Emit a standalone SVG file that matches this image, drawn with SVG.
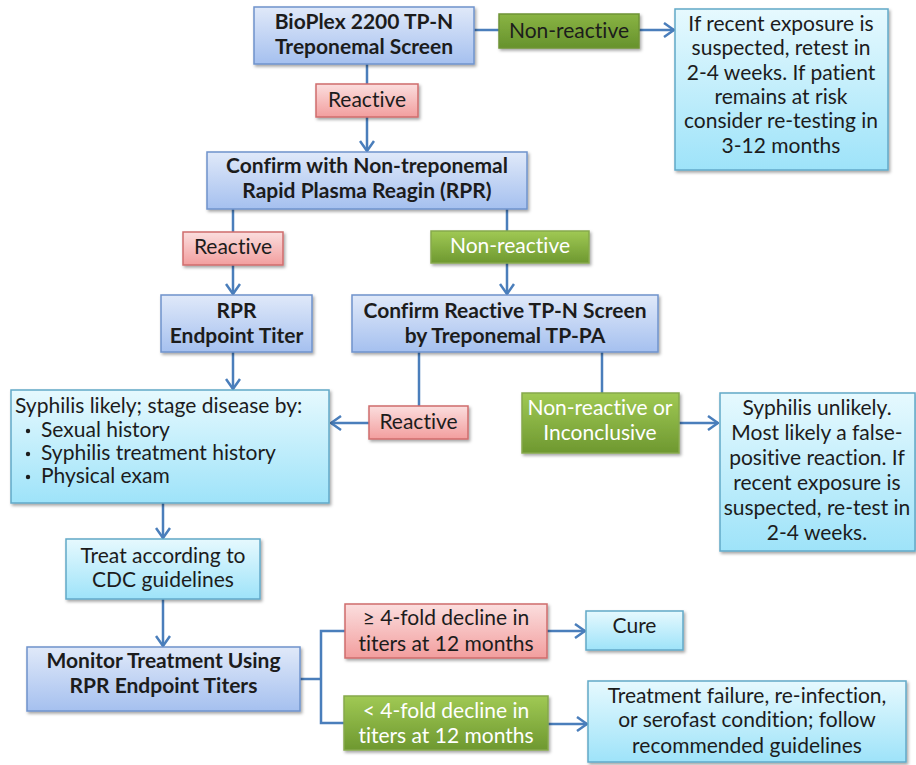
<svg xmlns="http://www.w3.org/2000/svg" width="916" height="765" viewBox="0 0 916 765">
<defs>
<linearGradient id="gBlue" x1="0" y1="0" x2="0" y2="1"><stop offset="0" stop-color="#e0e9f9"/><stop offset="1" stop-color="#a5c0ef"/></linearGradient>
<linearGradient id="gCyan" x1="0" y1="0" x2="0" y2="1"><stop offset="0" stop-color="#e6f9fe"/><stop offset="1" stop-color="#9ee3f9"/></linearGradient>
<linearGradient id="gRed" x1="0" y1="0" x2="0" y2="1"><stop offset="0" stop-color="#fbdede"/><stop offset="1" stop-color="#f29e9e"/></linearGradient>
<linearGradient id="gGreen" x1="0" y1="0" x2="0" y2="1"><stop offset="0" stop-color="#a0c954"/><stop offset="1" stop-color="#6e9830"/></linearGradient>
<linearGradient id="gGreenD" x1="0" y1="0" x2="0" y2="1"><stop offset="0" stop-color="#8ab444"/><stop offset="1" stop-color="#66922c"/></linearGradient>
<filter id="sh" x="-10%" y="-10%" width="130%" height="140%"><feDropShadow dx="1.5" dy="2" stdDeviation="1.5" flood-color="#000" flood-opacity="0.35"/></filter>
<marker id="arr" viewBox="0 0 12 16" refX="11" refY="8" markerWidth="12" markerHeight="16" markerUnits="userSpaceOnUse" orient="auto"><path d="M1,1 L11,8 L1,15" fill="none" stroke="#4a7ebb" stroke-width="2.5"/></marker>
</defs>
<style>
.blue{fill:url(#gBlue);stroke:#6f93cc;stroke-width:1.5;filter:url(#sh)}
.cyan{fill:url(#gCyan);stroke:#62a9c8;stroke-width:1.5;filter:url(#sh)}
.red{fill:url(#gRed);stroke:#cf6c6c;stroke-width:1.5;filter:url(#sh)}
.green{fill:url(#gGreen);stroke:#86a94c;stroke-width:1.5;filter:url(#sh)}
.greend{fill:url(#gGreenD);stroke:#6f9436;stroke-width:1.5;filter:url(#sh)}
text{font-family:Lato,"Liberation Sans",sans-serif;font-size:21px;fill:#1c1c1c;text-anchor:middle;font-variant-ligatures:none}
.b{font-weight:bold;font-size:21px}
.w{fill:#ffffff}
.l{text-anchor:start}
.c line,.c polyline{stroke:#4a7ebb;stroke-width:2.5;fill:none}
</style>
<g class="c" id="connectors">
<line x1="474" y1="30" x2="499" y2="30"/>
<line x1="639" y1="30" x2="674" y2="30" marker-end="url(#arr)"/>
<line x1="367" y1="64" x2="367" y2="151" marker-end="url(#arr)"/>
<line x1="233" y1="209" x2="233" y2="294" marker-end="url(#arr)"/>
<line x1="507" y1="209" x2="507" y2="294" marker-end="url(#arr)"/>
<line x1="233" y1="352" x2="233" y2="389" marker-end="url(#arr)"/>
<line x1="419" y1="352" x2="419" y2="406"/>
<line x1="369" y1="423" x2="331" y2="423" marker-end="url(#arr)"/>
<line x1="602" y1="352" x2="602" y2="393"/>
<line x1="679" y1="423" x2="718" y2="423" marker-end="url(#arr)"/>
<line x1="163" y1="503" x2="163" y2="538" marker-end="url(#arr)"/>
<line x1="163" y1="599" x2="163" y2="646" marker-end="url(#arr)"/>
<line x1="300" y1="679" x2="321" y2="679"/>
<polyline points="345,631 321,631 321,723 344,723"/>
<line x1="547" y1="631" x2="585" y2="631" marker-end="url(#arr)"/>
<line x1="548" y1="724" x2="587" y2="724" marker-end="url(#arr)"/>
</g>
<g id="bioplex"><rect class="blue" x="254" y="7" width="220" height="57"/><text class="b" x="364" y="29">BioPlex 2200 TP-N</text><text class="b" x="364" y="54">Treponemal Screen</text></g>
<g id="nonreactive1"><rect class="greend" x="499" y="14" width="140" height="34"/><text x="569" y="38">Non-reactive</text></g>
<g id="retest"><rect class="cyan" x="675" y="9" width="213" height="161"/>
<text x="781" y="31">If recent exposure is</text><text x="781" y="55">suspected, retest in</text><text x="781" y="80">2-4 weeks. If patient</text><text x="781" y="104">remains at risk</text><text x="781" y="128">consider re-testing in</text><text x="781" y="153">3-12 months</text></g>
<g id="reactive1"><rect class="red" x="316" y="84" width="102" height="33"/><text x="367" y="107">Reactive</text></g>
<g id="rpr"><rect class="blue" x="207" y="152" width="320" height="57"/><text class="b" x="367" y="173">Confirm with Non-treponemal</text><text class="b" x="367" y="198">Rapid Plasma Reagin (RPR)</text></g>
<g id="reactive2"><rect class="red" x="183" y="232" width="100" height="33"/><text x="233" y="254">Reactive</text></g>
<g id="nonreactive2"><rect class="green" x="431" y="231" width="158" height="32"/><text class="w" x="510" y="253">Non-reactive</text></g>
<g id="titer"><rect class="blue" x="161" y="295" width="151" height="57"/><text class="b" x="236.5" y="318">RPR</text><text class="b" x="236.5" y="343">Endpoint Titer</text></g>
<g id="tppa"><rect class="blue" x="352" y="295" width="306" height="57"/><text class="b" x="505" y="318">Confirm Reactive TP-N Screen</text><text class="b" x="505" y="343">by Treponemal TP-PA</text></g>
<g id="likely"><rect class="cyan" x="11" y="390" width="318" height="113"/>
<text class="l" x="15" y="413">Syphilis likely; stage disease by:</text>
<circle cx="28" cy="431" r="2.2" fill="#1c1c1c"/><text class="l" x="41" y="437">Sexual history</text>
<circle cx="28" cy="454" r="2.2" fill="#1c1c1c"/><text class="l" x="41" y="460">Syphilis treatment history</text>
<circle cx="28" cy="477" r="2.2" fill="#1c1c1c"/><text class="l" x="41" y="483">Physical exam</text></g>
<g id="reactive3"><rect class="red" x="369" y="406" width="99" height="33"/><text x="418.5" y="429">Reactive</text></g>
<g id="inconclusive"><rect class="green" x="522" y="393" width="157" height="60"/><text class="w" x="600" y="415">Non-reactive or</text><text class="w" x="600" y="440">Inconclusive</text></g>
<g id="unlikely"><rect class="cyan" x="720" y="393" width="195" height="158"/>
<text x="817" y="415">Syphilis unlikely.</text><text x="817" y="440">Most likely a false-</text><text x="817" y="465">positive reaction. If</text><text x="817" y="490">recent exposure is</text><text x="817" y="515">suspected, re-test in</text><text x="817" y="540">2-4 weeks.</text></g>
<g id="treat"><rect class="cyan" x="66" y="539" width="194" height="60"/><text x="163" y="563">Treat according to</text><text x="163" y="587">CDC guidelines</text></g>
<g id="monitor"><rect class="blue" x="27" y="647" width="273" height="64"/><text class="b" x="163.5" y="668">Monitor Treatment Using</text><text class="b" x="163.5" y="693">RPR Endpoint Titers</text></g>
<g id="decline"><rect class="red" x="345" y="604" width="202" height="54"/><text x="446" y="625">≥ 4-fold decline in</text><text x="446" y="651">titers at 12 months</text></g>
<g id="cure"><rect class="cyan" x="586" y="611" width="97" height="39"/><text x="634.5" y="633">Cure</text></g>
<g id="nodecline"><rect class="green" x="344" y="696" width="204" height="54"/><text class="w" x="446" y="718">&lt; 4-fold decline in</text><text class="w" x="446" y="743">titers at 12 months</text></g>
<g id="failure"><rect class="cyan" x="588" y="681" width="318" height="81"/>
<text x="747" y="703">Treatment failure, re-infection,</text><text x="747" y="727">or serofast condition; follow</text><text x="747" y="753">recommended guidelines</text></g>
</svg>
